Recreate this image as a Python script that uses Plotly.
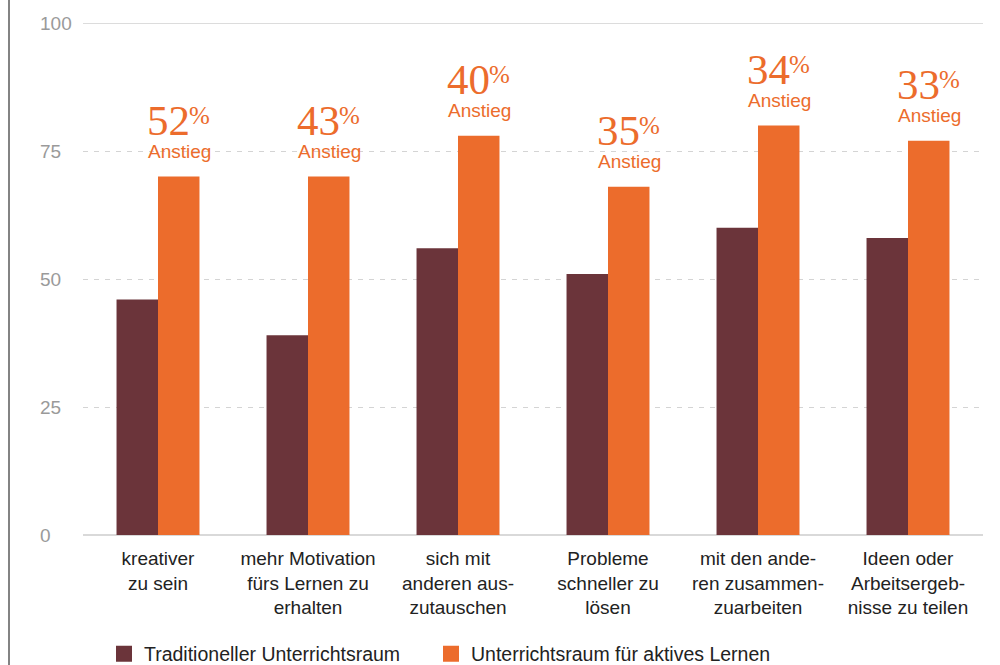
import plotly.graph_objects as go

categories = [
    "kreativer<br>zu sein",
    "mehr Motivation<br>fürs Lernen zu<br>erhalten",
    "sich mit<br>anderen aus-<br>zutauschen",
    "Probleme<br>schneller zu<br>lösen",
    "mit den ande-<br>ren zusammen-<br>zuarbeiten",
    "Ideen oder<br>Arbeitsergeb-<br>nisse zu teilen",
]
traditional = [46, 39, 56, 51, 60, 58]
active = [70, 70, 78, 68, 80, 77]
increase = [52, 43, 40, 35, 34, 33]
y_ticks = [0, 25, 50, 75, 100]
series_names = ["Traditioneller Unterrichtsraum", "Unterrichtsraum für aktives Lernen"]

MAROON = "#6b343a"
ORANGE = "#ec6c2c"
SANS = "Liberation Sans, Arial, sans-serif"
SERIF = "Liberation Serif, Times New Roman, serif"

fig = go.Figure()
fig.add_bar(x=categories, y=traditional, marker_color=MAROON, marker_line_width=0,
            name=series_names[0], showlegend=False, hoverinfo="y")
fig.add_bar(x=categories, y=active, marker_color=ORANGE, marker_line_width=0,
            name=series_names[1], showlegend=False, hoverinfo="y")
# legend entries with larger square symbols (one legend each for exact placement)
for nm, col, lg in zip(series_names, [MAROON, ORANGE], ["legend", "legend2"]):
    fig.add_scatter(x=[None], y=[None], mode="markers", name=nm, legend=lg,
                    marker=dict(symbol="square", size=16, color=col))

L, R, T, B = 83, 17, 23, 130
PW, PH = 1000 - L - R, 665 - T - B

# percentage annotations
for i, (cat, inc, val) in enumerate(zip(categories, increase, active)):
    fig.add_annotation(x=cat, y=val, xref="x", yref="y", xshift=21, yshift=25,
                       text="Anstieg", showarrow=False, yanchor="middle",
                       font=dict(family=SANS, size=19, color=ORANGE))
    fig.add_annotation(x=cat, y=val, xref="x", yref="y", xshift=10.5, yshift=56,
                       text=str(inc), showarrow=False, yanchor="middle",
                       font=dict(family=SERIF, size=43, color=ORANGE))
    fig.add_annotation(x=cat, y=val, xref="x", yref="y", xshift=41, yshift=61,
                       text="%", showarrow=False, yanchor="middle",
                       font=dict(family=SERIF, size=25, color=ORANGE))

# y tick labels (left aligned)
for v in y_ticks:
    fig.add_annotation(x=(38 - L) / PW, xref="paper", xanchor="left", y=v, yref="y",
                       text=str(v), showarrow=False,
                       font=dict(family=SANS, size=19, color="#9a9a9a"))

# solid top line at 100
fig.add_shape(type="line", xref="paper", yref="y", x0=0, x1=1, y0=100, y1=100,
              line=dict(color="#d0d0d0", width=1.5))
# left vertical border line
fig.add_shape(type="line", xref="paper", yref="paper", x0=(9 - L) / PW, x1=(9 - L) / PW,
              y0=-B / PH, y1=1 + T / PH, line=dict(color="#5a5a5a", width=1.5))

legend_common = dict(orientation="h", yanchor="middle", xanchor="left",
                     y=(535 - 654) / PH,
                     font=dict(family=SANS, size=19.5, color="#222222"),
                     bgcolor="rgba(0,0,0,0)")

fig.update_layout(
    width=1000, height=665,
    margin=dict(l=L, r=R, t=T, b=B, autoexpand=False),
    paper_bgcolor="white", plot_bgcolor="white",
    barmode="group", bargap=0.447, bargroupgap=0,
    font=dict(family=SANS, color="#222222"),
    showlegend=True,
    legend=dict(x=(104 - L) / PW, **legend_common),
    legend2=dict(x=(431 - L) / PW, **legend_common),
    xaxis=dict(range=[-0.5, 5.5], showgrid=False, ticks="", showline=False,
               ticklabelstandoff=10,
               tickfont=dict(family=SANS, size=19, color="#222222")),
    yaxis=dict(range=[0, 100], tickvals=[25, 50, 75], showticklabels=False,
               showgrid=True, gridcolor="#d4d4d4", griddash="5px,6px", gridwidth=1,
               zeroline=True, zerolinecolor="#d9d9d9", zerolinewidth=2, ticks=""),
)

fig.write_html("out.html", config={"displayModeBar": False},
               post_script="document.body.style.margin='0';")
